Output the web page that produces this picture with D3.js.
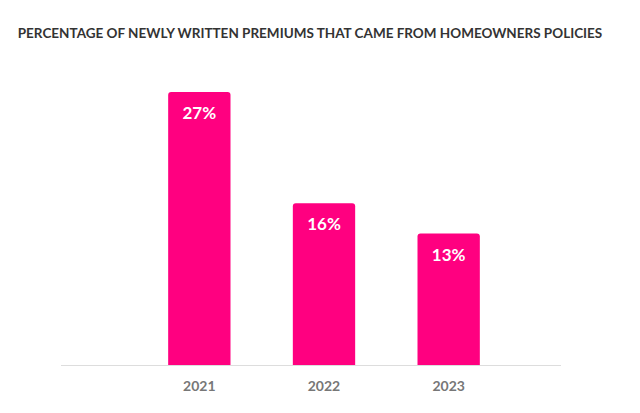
<!DOCTYPE html>
<html><head><meta charset="utf-8">
<script src="https://cdn.jsdelivr.net/npm/d3@7"></script>
<style>body{margin:0;background:#fff;font-family:Lato,sans-serif}</style>
</head><body>
<svg id="chart" width="640" height="413"></svg>
<script>
const years = ["2021", "2022", "2023"];
const shares = [27, 16, 13];

const svg = d3.select("#chart");
const baseY = 365;

svg.append("text")
  .attr("x", 310).attr("y", 38)
  .attr("text-anchor", "middle")
  .style("font-size", "13.5px").style("font-weight", "700")
  .style("fill", "#333")
  .text("PERCENTAGE OF NEWLY WRITTEN PREMIUMS THAT CAME FROM HOMEOWNERS POLICIES");

const x = d3.scaleBand().domain(years).range([137, 511]).paddingInner(0.5).paddingOuter(0.25);
const y = d3.scaleLinear().domain([0, 27]).range([baseY, 92]);

svg.append("line")
  .attr("x1", 61).attr("x2", 561).attr("y1", baseY + 0.5).attr("y2", baseY + 0.5)
  .style("stroke", "#ddd").style("stroke-width", 1);

const r = 3;
svg.selectAll("path.bar").data(shares).join("path")
  .attr("class", "bar")
  .attr("d", (d, i) => {
    const x0 = x(years[i]), w = x.bandwidth(), t = y(d);
    return `M${x0},${baseY}V${t + r}Q${x0},${t} ${x0 + r},${t}H${x0 + w - r}Q${x0 + w},${t} ${x0 + w},${t + r}V${baseY}Z`;
  })
  .style("fill", "#ff0080");

svg.selectAll("text.val").data(shares).join("text")
  .attr("class", "val")
  .attr("x", (d, i) => x(years[i]) + x.bandwidth() / 2)
  .attr("y", d => y(d) + 27)
  .attr("text-anchor", "middle")
  .style("font-size", "17px").style("font-weight", "700").style("fill", "#fff")
  .text(d => d + "%");

svg.selectAll("text.year").data(years).join("text")
  .attr("class", "year")
  .attr("x", d => x(d) + x.bandwidth() / 2)
  .attr("y", 391)
  .attr("text-anchor", "middle")
  .style("font-size", "14px").style("font-weight", "700").style("fill", "#777")
  .text(d => d);
</script>
</body></html>
